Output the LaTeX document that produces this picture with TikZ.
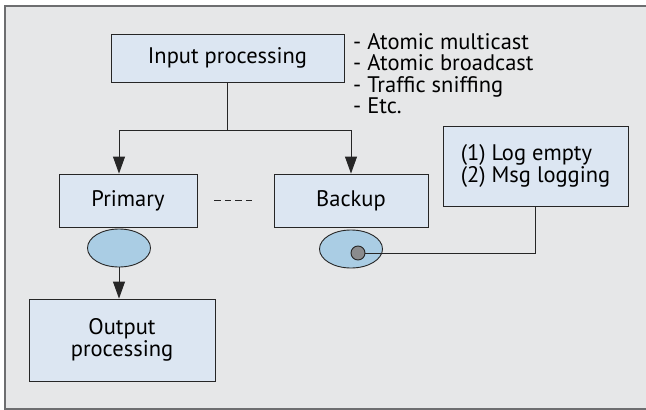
\documentclass[tikz,border=0pt]{standalone}
\usepackage{fontspec}
\setmainfont{PT Sans}
\usepackage{tikz}
\usetikzlibrary{arrows.meta,shapes.geometric}
\definecolor{bggrey}{HTML}{E6E7E8}
\definecolor{boxblue}{HTML}{DCE6F2}
\definecolor{ellblue}{HTML}{AACDE4}
\definecolor{dotgrey}{HTML}{8A8B8D}
\definecolor{framegrey}{HTML}{6D6E70}

\begin{document}
\begin{tikzpicture}[x=1pt, y=-1pt,
        every node/.style={font=\fontsize{22.5}{21.5}\selectfont},
        procbox/.style={draw=black!85, fill=boxblue, line width=0.9pt, inner sep=0pt, align=center},
        buffer/.style={ellipse, draw=black!85, fill=ellblue, line width=0.9pt, minimum width=63pt, minimum height=38pt, inner sep=0pt},
        link/.style={black!85, line width=0.9pt},
        arr/.style={link, -{Triangle[width=12pt, length=17pt]}}]
        \useasboundingbox (0, 0) rectangle (646, 410);
        \fill[bggrey] (4.5, 5.5) rectangle (646, 408.5);
        \draw[framegrey, line width=2pt] (646, 5.5) -- (4.5, 5.5) -- (4.5, 408.5) -- (646, 408.5);
        % boxes
        \node[procbox, minimum width=233pt, minimum height=48pt] (input) at (227.5, 58) {Input processing};
        \node[procbox, minimum width=138pt, minimum height=53pt] (primary) at (128, 200.5) {Primary};
        \node[procbox, minimum width=154pt, minimum height=53pt] (backup) at (351, 200.5) {Backup};
        \node[procbox, minimum width=185pt, minimum height=80pt, align=left] (log) at (535.5, 166) {(1) Log empty\\(2) Msg logging};
        \node[procbox, minimum width=186pt, minimum height=82pt] (output) at (122, 340) {Output\\processing};
        \node[anchor=north west, align=left, inner sep=0pt] (methods) at (353, 33) {- Atomic multicast\\- Atomic broadcast\\- Traffic sniffing\\- Etc.};
        % logs
        \node[buffer] (plog) at (119, 248) {};
        \node[buffer] (blog) at (351, 249) {};
        \node[circle, draw=black!85, fill=dotgrey, line width=0.9pt, minimum size=14pt, inner sep=0pt] (bdot) at (358, 253) {};
        % connections
        \coordinate (split) at (227.5, 130);
        \draw[link] (input) -- (split);
        \draw[arr] (split) -| (plog |- primary.north);
        \draw[arr] (split) -| (backup.north);
        \draw[arr] (plog) -- (plog |- output.north);
        \draw[link, dash pattern=on 6.5pt off 4pt, shorten <=17pt, shorten >=22pt] (primary) -- (backup);
        \draw[link] (bdot) -| (log);
    \end{tikzpicture}
\end{document}
